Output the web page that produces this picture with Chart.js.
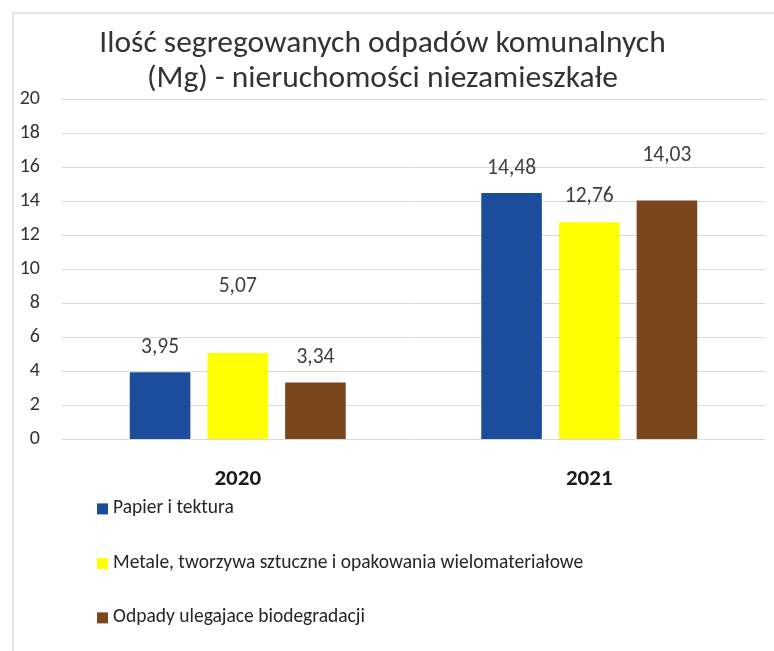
<!DOCTYPE html>
<html>
<head>
<meta charset="utf-8">
<title>Ilość segregowanych odpadów komunalnych</title>
<script src="https://cdn.jsdelivr.net/npm/chart.js"></script>
<style>
  body { margin: 0; background: #fff; }
  #wrap { position: relative; width: 774px; height: 651px; }
  #frame {
    position: absolute; left: 12px; top: 12px; right: 0; bottom: 0;
    border-left: 2px solid #e4e4e4; border-top: 2px solid #e4e4e4;
    pointer-events: none;
  }
  canvas { position: absolute; left: 0; top: 0; }
</style>
</head>
<body>
<div id="wrap">
  <canvas id="chart" width="774" height="651"></canvas>
  <div id="frame"></div>
</div>
<script>
// data
const years = ['2020', '2021'];
const papier = [3.95, 14.48];
const metale = [5.07, 12.76];
const biodegradowalne = [3.34, 14.03];
const seriesNames = [
  'Papier i tektura',
  'Metale, tworzywa sztuczne i opakowania wielomateriałowe',
  'Odpady ulegajace biodegradacji'
];
const titleLines = ['Ilość segregowanych odpadów komunalnych', '(Mg) - nieruchomości niezamieszkałe'];
const yMin = 0, yMax = 20, yStep = 2;

const FONT = 'Carlito, Lato, "Liberation Sans", sans-serif';
const colors = ['#1c4c9c', '#ffff00', '#7a461b'];

// how far above each bar top its value label sits (px), per series / year
const LABEL_LIFT = [[25, 24], [66, 26], [25, 45]];

const valueLabels = {
  id: 'valueLabels',
  afterDatasetsDraw(chart) {
    const ctx = chart.ctx;
    ctx.save();
    ctx.font = '21.5px ' + FONT;
    ctx.fillStyle = '#404040';
    ctx.textAlign = 'center';
    ctx.textBaseline = 'middle';
    chart.data.datasets.forEach((ds, i) => {
      chart.getDatasetMeta(i).data.forEach((bar, j) => {
        const txt = ds.data[j].toFixed(2).replace('.', ',');
        ctx.fillText(txt, bar.x, bar.y - LABEL_LIFT[i][j]);
      });
    });
    ctx.restore();
  }
};

// legend drawn as a vertical list under the x axis
const listLegend = {
  id: 'listLegend',
  afterDraw(chart) {
    const ctx = chart.ctx;
    const x0 = 97;
    let y = chart.chartArea.bottom + 69;
    ctx.save();
    ctx.font = '19.5px ' + FONT;
    ctx.textBaseline = 'middle';
    ctx.textAlign = 'left';
    chart.data.datasets.forEach(ds => {
      ctx.fillStyle = ds.backgroundColor;
      ctx.fillRect(x0, y - 5, 11, 11);
      ctx.fillStyle = '#262626';
      ctx.fillText(ds.label, x0 + 16, y);
      y += 54.5;
    });
    ctx.restore();
  }
};

const ctx = document.getElementById('chart').getContext('2d');
new Chart(ctx, {
  type: 'bar',
  data: {
    labels: years,
    datasets: [
      { label: seriesNames[0], data: papier, backgroundColor: colors[0] },
      { label: seriesNames[1], data: metale, backgroundColor: colors[1] },
      { label: seriesNames[2], data: biodegradowalne, backgroundColor: colors[2] }
    ]
  },
  options: {
    responsive: false,
    animation: false,
    categoryPercentage: 0.663,
    barPercentage: 0.78,
    layout: { padding: { left: 0, right: 9, top: 0, bottom: 140 } },
    plugins: {
      legend: { display: false },
      tooltip: { enabled: false },
      title: {
        display: true,
        text: titleLines,
        color: '#333',
        font: { family: FONT, size: 31.5, weight: 'normal', lineHeight: '35px' },
        padding: { top: 27, bottom: 2 }
      }
    },
    scales: {
      x: {
        grid: { display: false },
        border: { display: false },
        ticks: {
          color: '#1a1a1a',
          padding: 18,
          font: { family: FONT, size: 23, weight: 'bold' }
        }
      },
      y: {
        min: yMin,
        max: yMax,
        ticks: {
          stepSize: yStep,
          color: '#333',
          padding: 22,
          font: { family: FONT, size: 20 }
        },
        grid: { color: '#d9d9d9', drawTicks: false },
        border: { display: false },
        afterFit(scale) { scale.width = 62; }
      }
    }
  },
  plugins: [valueLabels, listLegend]
});
</script>
</body>
</html>
